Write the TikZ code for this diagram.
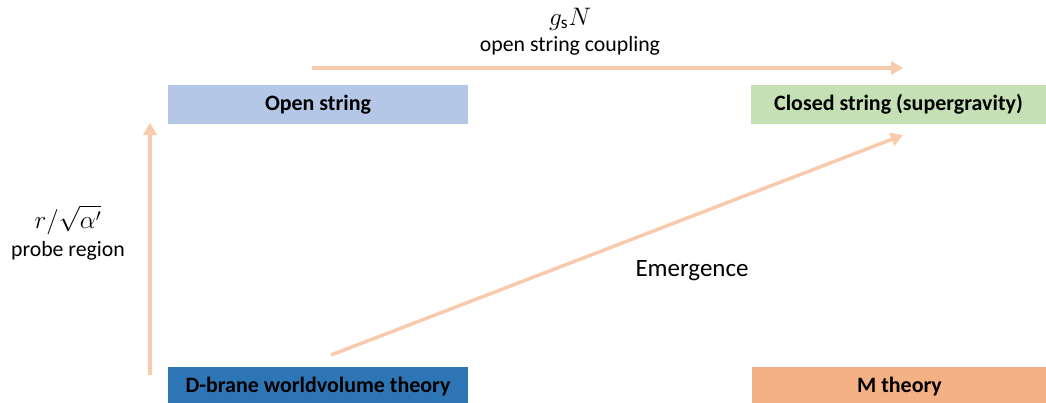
\documentclass[tikz,border=0pt]{standalone}
\usepackage{amsmath}
\usepackage{fontspec}
\setmainfont{Carlito}
\usetikzlibrary{positioning, arrows.meta}

\definecolor{openblue}{HTML}{B4C7E7}
\definecolor{closedgreen}{HTML}{C5E0B4}
\definecolor{braneblue}{HTML}{2E75B6}
\definecolor{morange}{HTML}{F4B183}
\definecolor{arrowpeach}{HTML}{F8CBAD}

\begin{document}
\begin{tikzpicture}[
    theory/.style={rectangle, minimum width=6cm, minimum height=0.78cm,
                   inner sep=0pt, font=\fontsize{12.5}{15}\selectfont\bfseries},
    arrow/.style={-{Triangle[length=2.4mm, width=2.7mm]}, line width=2pt, draw=arrowpeach},
    label/.style={font=\fontsize{12.4}{15}\selectfont, align=center},
    mathlabel/.style={font=\fontsize{14}{17}\selectfont}
]
    \useasboundingbox (0, 0) rectangle (20.92, 8.04);

    % Theory boxes
    \node[theory, fill=openblue] (open) at (6.36, 5.95) {Open string};
    \node[theory, fill=closedgreen, minimum width=5.9cm] (closed) at (17.97, 5.95) {Closed string (supergravity)};
    \node[theory, fill=braneblue] (brane) at (6.36, 0.31) {D-brane worldvolume theory};
    \node[theory, fill=morange, minimum width=5.9cm] (mth) at (17.99, 0.31) {M theory};

    % Arrow end points
    \coordinate (top start) at (6.24, 6.68);
    \coordinate (top end) at (18.06, 6.68);
    \coordinate (up start) at (3.0, 0.54);
    \coordinate (up end) at (3.0, 5.58);
    \coordinate (diag start) at (6.62, 0.94);
    \coordinate (diag end) at (18.06, 5.34);

    % Coupling
    \draw[arrow] (top start) -- (top end);
    \node[mathlabel] (gsn) at (11.4, 7.66) {$g_{\mathrm{s}}N$};
    \node[label] (coupling) at (11.4, 7.13) {open string coupling};

    % Probe region
    \draw[arrow] (up start) -- (up end);
    \node[mathlabel] (ratio) at (1.36, 3.64) {$r/\sqrt{\alpha'}$};
    \node[label] (probe) at (1.36, 3.03) {probe region};

    % Emergence
    \draw[arrow] (diag start) -- (diag end);
    \node[font=\fontsize{14.2}{17}\selectfont] (emerge) at (13.84, 2.63) {Emergence};

\end{tikzpicture}
\end{document}
